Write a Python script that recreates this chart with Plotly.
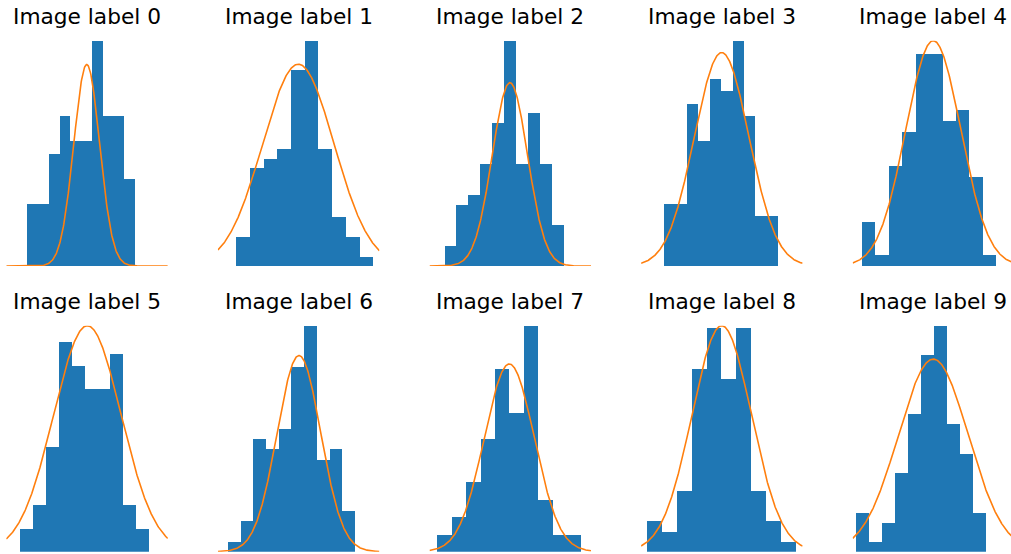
import numpy as np
import plotly.graph_objects as go

# ---- data ----
labels = [f"Image label {i}" for i in range(10)]

counts_0 = [5, 5, 9, 12, 10, 10, 18, 12, 12, 7]
counts_1 = [3, 10, 11, 12, 20, 23, 12, 5, 3, 1]
counts_2 = [2, 6, 7, 10, 14, 22, 10, 15, 10, 4]
counts_3 = [5, 5, 13, 10, 15, 14, 18, 12, 4, 4]
counts_4 = [4, 1, 9, 12, 19, 19, 13, 14, 8, 1]
counts_5 = [2, 4, 9, 18, 16, 14, 14, 17, 4, 2]
counts_6 = [1, 3, 11, 10, 12, 18, 22, 9, 10, 4]
counts_7 = [2, 4, 8, 13, 21, 16, 26, 6, 2, 2]
counts_8 = [3, 2, 6, 18, 22, 17, 22, 6, 3, 1]
counts_9 = [4, 1, 3, 8, 14, 20, 23, 13, 10, 4]
counts = [counts_0, counts_1, counts_2, counts_3, counts_4,
          counts_5, counts_6, counts_7, counts_8, counts_9]

hist_lo = [1.33, 1.12, 0.90, 1.44, 0.56, 0.89, 0.61, 0.45, 0.38, 0.19]
hist_hi = [7.97, 9.62, 8.28, 8.50, 8.87, 8.85, 8.49, 9.38, 9.57, 8.25]

fit_mu = [4.98, 4.98, 4.98, 4.99, 4.99, 5.02, 5.02, 4.94, 4.99, 4.99]
fit_sigma = [0.80, 2.21, 1.09, 1.69, 1.70, 2.09, 1.35, 1.55, 1.84, 2.16]
fit_peak = [16.1, 20.6, 17.9, 17.05, 20.2, 19.4, 19.1, 21.6, 22.2, 19.6]

curve_lo, curve_hi = 0.0, 10.0

# ---- layout geometry ----
W, H = 1011, 554
col_left_px = [6.3 + 211.6 * c for c in range(5)]
panel_w_px = 161.5
row_top_px = [40.7, 325.7]
row_bot_px = [266.0, 551.7]
title_y_px = [17.0, 301.0]

BLUE = "#1f77b4"
ORANGE = "#ff7f0e"

fig = go.Figure()
layout = dict(
    width=W, height=H,
    margin=dict(l=0, r=0, t=0, b=0),
    paper_bgcolor="white", plot_bgcolor="white",
    showlegend=False, bargap=0,
    annotations=[],
)

for i in range(10):
    r, c = divmod(i, 5)
    ax = "" if i == 0 else str(i + 1)
    n = len(counts[i])
    bw = (hist_hi[i] - hist_lo[i]) / n
    centers = [hist_lo[i] + bw * (k + 0.5) for k in range(n)]
    fig.add_trace(go.Bar(
        x=centers, y=counts[i], width=[bw] * n,
        marker=dict(color=BLUE, line=dict(width=0)),
        xaxis="x" + ax, yaxis="y" + ax, hoverinfo="skip",
    ))
    xs = np.linspace(curve_lo, curve_hi, 400)
    ys = fit_peak[i] * np.exp(-(xs - fit_mu[i]) ** 2 / (2 * fit_sigma[i] ** 2))
    fig.add_trace(go.Scatter(
        x=xs, y=ys, mode="lines",
        line=dict(color=ORANGE, width=1.6),
        xaxis="x" + ax, yaxis="y" + ax, hoverinfo="skip",
    ))

    x0 = col_left_px[c] / W
    x1 = min((col_left_px[c] + panel_w_px) / W, 1.0)
    xr_hi = curve_lo + (curve_hi - curve_lo) * (x1 * W - col_left_px[c]) / panel_w_px
    y0 = 1 - row_bot_px[r] / H
    y1 = 1 - row_top_px[r] / H
    ytop = max(max(counts[i]), fit_peak[i])

    layout["xaxis" + ax] = dict(domain=[x0, x1], range=[curve_lo, xr_hi],
                                visible=False, anchor="y" + ax, fixedrange=True)
    layout["yaxis" + ax] = dict(domain=[y0, y1], range=[0, ytop],
                                visible=False, anchor="x" + ax, fixedrange=True)
    layout["annotations"].append(dict(
        text=labels[i], xref="paper", yref="paper",
        x=(col_left_px[c] + panel_w_px / 2) / W, y=1 - title_y_px[r] / H,
        xanchor="center", yanchor="middle", showarrow=False,
        font=dict(family="DejaVu Sans", size=21.7, color="black"),
    ))

fig.update_layout(**layout)
fig.write_html(
    "out.html",
    config={"displayModeBar": False},
    post_script="document.body.style.margin='0';document.body.style.overflow='hidden';",
)
